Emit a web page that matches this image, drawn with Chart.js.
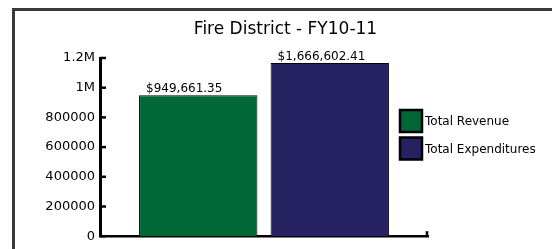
<!DOCTYPE html>
<html>
<head>
<meta charset="utf-8">
<script src="https://cdn.jsdelivr.net/npm/chart.js@4"></script>
<style>
  html, body { margin: 0; padding: 0; background: #fff; }
  #wrap { width: 552px; height: 249px; }
</style>
</head>
<body>
<div id="wrap"><canvas id="chart"></canvas></div>
<script>
// chart values
const categories   = [''];
const seriesNames  = ['Total Revenue', 'Total Expenditures'];
const seriesValues = [949661.35, 1166602.41];
const valueLabels  = ['$949,661.35', '$1,666,602.41'];
const seriesColors = ['#006837', '#262262'];
const yMin = 0, yMax = 1200000, yStep = 200000;

const FONT = '"DejaVu Sans", sans-serif';

// frame, inward ticks, value labels and the side legend
const decor = {
  id: 'decor',
  beforeDraw(chart) {
    const ctx = chart.ctx;
    ctx.save();
    ctx.fillStyle = '#fff';
    ctx.fillRect(0, 0, chart.width, chart.height);
    ctx.strokeStyle = '#383838';
    ctx.lineWidth = 3;
    ctx.beginPath();
    ctx.moveTo(13.5, chart.height);
    ctx.lineTo(13.5, 9.5);
    ctx.lineTo(chart.width, 9.5);
    ctx.stroke();
    ctx.restore();
  },
  afterDraw(chart) {
    const ctx = chart.ctx;
    const area = chart.chartArea;
    const y = chart.scales.y;
    ctx.save();
    // tick marks pointing into the plot
    ctx.strokeStyle = '#000';
    ctx.lineWidth = 2.5;
    y.ticks.forEach(t => {
      const py = y.getPixelForValue(t.value);
      ctx.beginPath();
      ctx.moveTo(area.left, py);
      ctx.lineTo(area.left + 6, py);
      ctx.stroke();
    });
    ctx.beginPath();
    ctx.moveTo(area.right - 1, area.bottom);
    ctx.lineTo(area.right - 1, area.bottom - 5);
    ctx.stroke();

    // value labels above the bars
    ctx.font = '12px ' + FONT;
    ctx.fillStyle = '#000';
    ctx.textAlign = 'left';
    ctx.textBaseline = 'alphabetic';
    chart.data.datasets.forEach((ds, i) => {
      const bar = chart.getDatasetMeta(i).data[0];
      const left = bar.x - bar.width / 2;
      ctx.fillText(valueLabels[i], left + 7, bar.y - 3);
    });

    // legend
    chart.data.datasets.forEach((ds, i) => {
      const bx = 400, by = 110 + i * 27.5;
      ctx.fillStyle = ds.backgroundColor;
      ctx.fillRect(bx, by, 22, 22);
      ctx.lineWidth = 2.5;
      ctx.strokeStyle = '#000';
      ctx.strokeRect(bx, by, 22, 22);
      ctx.fillStyle = '#000';
      ctx.textBaseline = 'middle';
      ctx.fillText(ds.label, bx + 25, by + 12);
    });
    ctx.restore();
  }
};

new Chart(document.getElementById('chart'), {
  type: 'bar',
  data: {
    labels: categories,
    datasets: seriesNames.map((name, i) => ({
      label: name,
      data: [seriesValues[i]],
      backgroundColor: seriesColors[i],
      borderColor: '#000',
      borderWidth: 1,
      categoryPercentage: 0.802,
      barPercentage: 0.9
    }))
  },
  options: {
    responsive: true,
    maintainAspectRatio: false,
    animation: false,
    layout: { padding: { left: 19, right: 0, top: 0, bottom: 12 } },
    plugins: {
      legend: { display: false },
      tooltip: { enabled: false },
      title: {
        display: true,
        text: 'Fire District - FY10-11',
        color: '#000',
        font: { family: FONT, size: 17, weight: 'normal' },
        padding: { top: 19, bottom: 18.6 }
      }
    },
    scales: {
      x: {
        grid: { display: false, drawTicks: false },
        ticks: { display: false },
        border: { display: true, color: '#000', width: 2.5 }
      },
      y: {
        min: yMin,
        max: yMax,
        grid: { display: false, drawTicks: false },
        border: { display: true, color: '#000', width: 3 },
        ticks: {
          stepSize: yStep,
          padding: 5,
          color: '#000',
          font: { family: FONT, size: 13 },
          callback: v => v >= 1000000 ? (v / 1000000) + 'M' : String(v)
        },
        afterFit(scale) { scale.width = 81; }
      },
      side: {
        type: 'linear',
        position: 'right',
        display: true,
        grid: { display: false, drawTicks: false },
        border: { display: false },
        ticks: { display: false },
        afterFit(scale) { scale.width = 124; }
      }
    }
  },
  plugins: [decor]
});
</script>
</body>
</html>
